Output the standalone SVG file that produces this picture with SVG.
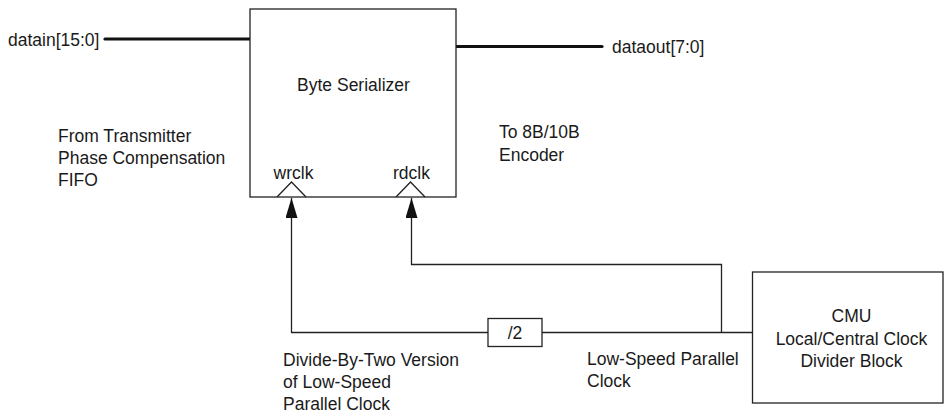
<svg xmlns="http://www.w3.org/2000/svg" width="944" height="417" viewBox="0 0 944 417">
<style>
text{font-family:"Liberation Sans",Arial,sans-serif;font-size:17.5px;fill:#1a1a1a}
.box{fill:#fff;stroke:#222;stroke-width:1.3}
.w{fill:none;stroke:#222;stroke-width:1.3}
.bus{fill:none;stroke:#111;stroke-width:3.2;stroke-linecap:round}
.c{text-anchor:middle}
</style>
<defs>
<marker id="ah" markerWidth="21" markerHeight="12" refX="20" refY="6" orient="auto" markerUnits="userSpaceOnUse" viewBox="0 0 21 12">
<path d="M0,0 L20,6 L0,12 Z" fill="#111"/>
</marker>
</defs>
<rect width="944" height="417" fill="#fff"/>
<g id="connectors">
<line class="bus" x1="105" y1="39" x2="250" y2="39"/>
<line class="bus" x1="456" y1="46.5" x2="602" y2="46.5"/>
<polyline class="w" points="752.5,332.5 542,332.5"/>
<polyline class="w" points="488,332.5 291.5,332.5 291.5,198" marker-end="url(#ah)"/>
<polyline class="w" points="721.5,332.5 721.5,264.5 411.5,264.5 411.5,198" marker-end="url(#ah)"/>
</g>
<g id="byte-serializer">
<rect class="box" x="250" y="9" width="206" height="188"/>
<text class="c" x="353.5" y="91">Byte Serializer</text>
<polyline class="w" points="277,197 291.5,182 306,197"/>
<polyline class="w" points="396,197 410.5,182 425,197"/>
<text class="c" x="293.5" y="179">wrclk</text>
<text class="c" x="411.5" y="179">rdclk</text>
</g>
<g id="divide-by-two">
<rect class="box" x="488" y="318.5" width="54" height="28"/>
<text class="c" x="515" y="339">/2</text>
</g>
<g id="cmu">
<rect class="box" x="752.5" y="272" width="190.5" height="131"/>
<text class="c" x="851.5" y="322">CMU</text>
<text class="c" x="851.5" y="344.5">Local/Central Clock</text>
<text class="c" x="851.5" y="367">Divider Block</text>
</g>
<g id="labels">
<text x="8" y="45.5">datain[15:0]</text>
<text x="612" y="52.5">dataout[7:0]</text>
<text x="58" y="141.5">From Transmitter</text>
<text x="58" y="163.5">Phase Compensation</text>
<text x="58" y="186">FIFO</text>
<text x="499" y="138">To 8B/10B</text>
<text x="499" y="160.5">Encoder</text>
<text x="283" y="366">Divide-By-Two Version</text>
<text x="283" y="388">of Low-Speed</text>
<text x="283" y="410">Parallel Clock</text>
<text x="587" y="365">Low-Speed Parallel</text>
<text x="587" y="387">Clock</text>
</g>
</svg>
